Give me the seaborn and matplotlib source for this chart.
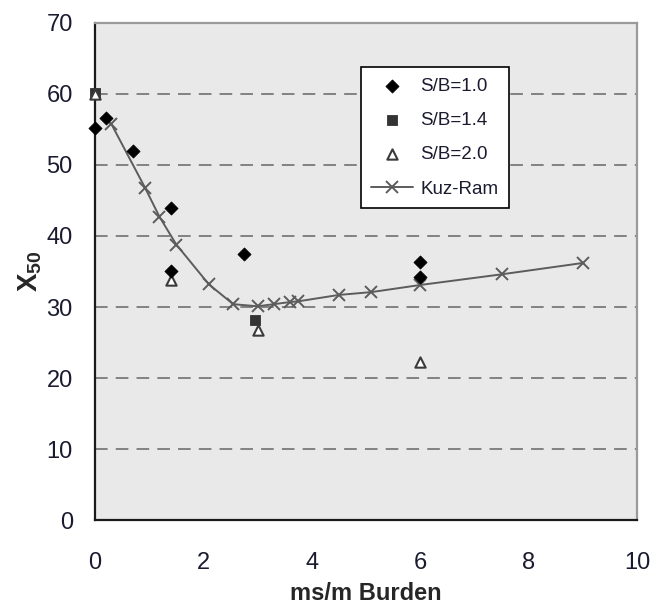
import matplotlib
matplotlib.use("Agg")
import matplotlib.pyplot as plt
import seaborn as sns
import pandas as pd

# Measured median fragment size X50 against delay per metre of burden
sb10_x = [0.0, 0.2, 0.7, 1.4, 1.4, 2.75, 6.0, 6.0]
sb10_y = [55.2, 56.6, 51.9, 44.0, 35.1, 37.5, 36.4, 34.2]

sb14_x = [0.0, 2.95]
sb14_y = [60.1, 28.2]

sb20_x = [0.0, 1.4, 3.0, 6.0]
sb20_y = [60.0, 33.8, 26.8, 22.3]

# Kuz-Ram model prediction
kr_x = [0.3, 0.93, 1.19, 1.5, 2.1, 2.55, 3.0, 3.3, 3.6, 3.75, 4.5, 5.1, 6.0, 7.5, 9.0]
kr_y = [55.8, 46.7, 42.7, 38.8, 33.2, 30.4, 30.1, 30.4, 30.7, 30.8, 31.7, 32.1, 33.1, 34.6, 36.2]

x_ticks = [0, 2, 4, 6, 8, 10]
y_ticks = [0, 10, 20, 30, 40, 50, 60, 70]

sns.set_style("white")
plt.rcParams["font.family"] = ["Liberation Sans", "DejaVu Sans"]
plt.rcParams["mathtext.fontset"] = "custom"
plt.rcParams["mathtext.rm"] = "Liberation Sans"
plt.rcParams["mathtext.bf"] = "Liberation Sans:bold"

fig = plt.figure(figsize=(6.52, 6.16), dpi=100)
ax = fig.add_axes([0.1457, 0.1558, 0.977 - 0.1457, 0.9627 - 0.1558])
ax.set_facecolor("#e9e9e9")

# dashed horizontal grid
for yv in y_ticks[1:-1]:
    ax.axhline(yv, color="#7a7a7a", lw=1.3, dashes=(7, 4.5), zorder=0.5)

kr = pd.DataFrame({"x": kr_x, "y": kr_y})
sns.lineplot(data=kr, x="x", y="y", ax=ax, color="#5c5c5c", lw=1.4,
             marker="x", markersize=9, markeredgewidth=1.4,
             markeredgecolor="#5c5c5c", label="Kuz-Ram", zorder=2, sort=False)

sns.scatterplot(x=sb14_x, y=sb14_y, ax=ax, marker="s", s=52, color="#333333",
                edgecolor="#333333", linewidth=0.6, label="S/B=1.4", zorder=3)
sns.scatterplot(x=sb20_x, y=sb20_y, ax=ax, marker="^", s=55, facecolor="white",
                edgecolor="#3a3a3a", linewidth=1.5, label="S/B=2.0", zorder=4)
sns.scatterplot(x=sb10_x, y=sb10_y, ax=ax, marker="D", s=44, color="black",
                edgecolor="black", linewidth=0.6, label="S/B=1.0", zorder=5)

# let markers sitting on the y axis show in full
for coll in ax.collections:
    coll.set_clip_on(False)

ax.set_xlim(0, 10)
ax.set_ylim(0, 70)
ax.set_xticks(x_ticks)
ax.set_yticks(y_ticks)
ax.set_xticklabels([str(v) for v in x_ticks])
ax.set_yticklabels([str(v) for v in y_ticks])

for side in ("left", "bottom"):
    ax.spines[side].set_color("#1a1a1a")
    ax.spines[side].set_linewidth(1.6)
for side in ("top", "right"):
    ax.spines[side].set_color("#9a9a9a")
    ax.spines[side].set_linewidth(1.6)

ax.tick_params(axis="y", direction="out", length=7, width=1.4, color="#1a1a1a",
               pad=9, labelsize=17, labelcolor="#1b1b30")
ax.tick_params(axis="x", direction="out", length=7, width=1.4, color="#1a1a1a",
               pad=16, labelsize=17, labelcolor="#1b1b30")

ax.set_xlabel("ms/m Burden", fontsize=17, fontweight="bold", labelpad=6)
ax.set_ylabel(r"$\mathbf{X}_{\mathbf{50}}$", fontsize=20, labelpad=2)

handles, labels = ax.get_legend_handles_labels()
order = ["S/B=1.0", "S/B=1.4", "S/B=2.0", "Kuz-Ram"]
hmap = dict(zip(labels, handles))
leg = ax.legend([hmap[k] for k in order], order, loc="upper left",
                bbox_to_anchor=(0.491, 0.911), borderaxespad=0,
                fontsize=13.5, frameon=True, fancybox=False, edgecolor="black",
                framealpha=1, handlelength=2.2, handletextpad=0.4,
                labelspacing=0.92, borderpad=0.55)
leg.get_frame().set_linewidth(1.2)
for t in leg.get_texts():
    t.set_color("#1b1b30")

fig.savefig("out.png", dpi=100)
